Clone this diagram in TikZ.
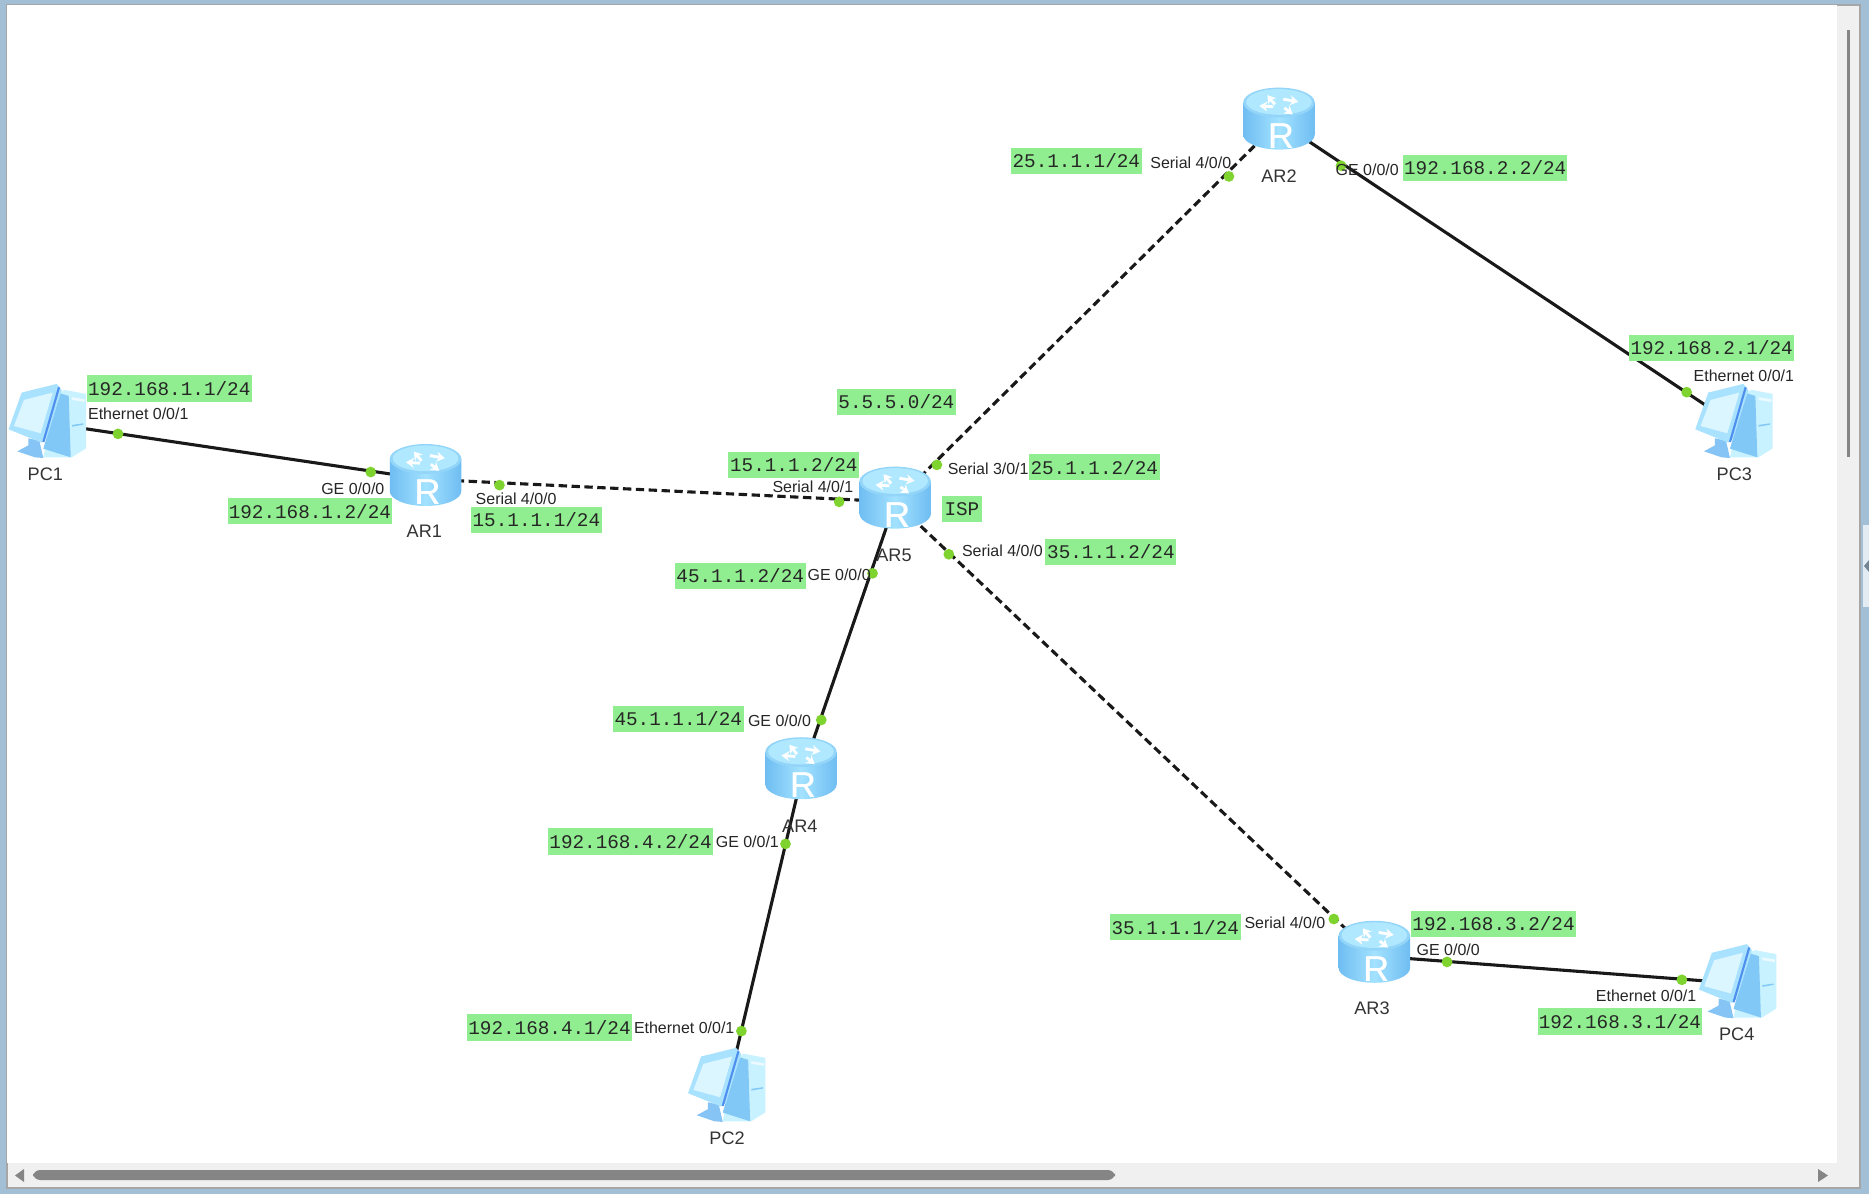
\documentclass[tikz,border=0pt]{standalone}
\usepackage{fontspec}
\setmainfont{Liberation Sans}
\setmonofont{Liberation Mono}
\usetikzlibrary{arrows.meta}
\definecolor{framec}{HTML}{A3BFD6}
\definecolor{panelc}{HTML}{F0F0F0}
\definecolor{barc}{HTML}{858585}
\definecolor{tagc}{HTML}{90EE90}
\definecolor{dotc}{HTML}{7FD32F}
\definecolor{rsidea}{HTML}{6FBDF2}
\definecolor{rsideb}{HTML}{A3E2FF}
\definecolor{rtop}{HTML}{B0E8FF}
\definecolor{pcedge}{HTML}{4F90EE}
\definecolor{pcside}{HTML}{82C8F6}
\definecolor{pcfront}{HTML}{C8F2FF}
\definecolor{pcbezel}{HTML}{A8E2FF}
\definecolor{pcscreen}{HTML}{DCF6FF}
\definecolor{pcbase}{HTML}{86C4F6}
\tikzset{
  x=0.5pt,y=-0.5pt,
  devhit/.style={inner sep=0pt,minimum width=25pt,minimum height=20pt,draw=none},
  pchit/.style={inner sep=0pt,minimum width=20pt,minimum height=20pt,draw=none},
  solidlink/.style={draw=black!90,line width=1.3pt},
  seriallink/.style={draw=black!90,line width=1.3pt,dash pattern=on 3.5pt off 1.9pt},
  portdot/.style={circle,fill=dotc,draw=none,inner sep=0pt,minimum size=4.5pt},
  tag/.style={fill=tagc,inner sep=0pt,minimum height=11pt,font=\ttfamily\fontsize{8.1}{9}\selectfont,text=black!85},
  longtag/.style={tag,minimum width=69pt},
  midtag/.style={tag,minimum width=55pt},
  port/.style={inner sep=0pt,yshift=-0.2pt,font=\fontsize{6.7}{8}\selectfont,text=black!85},
  devname/.style={inner sep=0pt,yshift=-0.4pt,font=\fontsize{7.6}{9}\selectfont,text=black!80},
  router/.pic={
    \path[left color=rsidea,right color=rsidea,middle color=rsideb]
      (-30,-14) -- (-30,13) arc[start angle=180,end angle=0,x radius=30,y radius=12.5] -- (30,-14) -- cycle;
    \fill[rtop!55!rsidea] (0,-14) ellipse[x radius=30,y radius=12.5];
    \fill[rtop] (0,-14.5) ellipse[x radius=27.5,y radius=10.8];
    \foreach \a/\b/\c/\d in {-3.4/-12.3/-9.8/-20.2, 3.6/-16.8/16.2/-14.6, -4.8/-10.4/-16.5/-11.2, 4.5/-9.5/11.5/-4}{
      \draw[white,line width=1.2pt,-{Stealth[length=3.4pt,width=4.2pt]}] (\a,\b) -- (\c,\d);
    }
    \node[inner sep=0pt,text=white,font=\fontsize{15}{15}\selectfont] at (1.4,14) {R};
    \node[inner sep=0pt,text=white,font=\fontsize{15}{15}\selectfont] at (1.9,14) {R};
  },
  pcicon/.pic={
    \begin{scope}[scale=0.28,shift={(-163,-156)}]
      % tower
      \fill[pcfront] (215,60) -- (278,72) -- (278,235) -- (235,262) -- (150,262) -- (190,70) -- cycle;
      \fill[pcside] (200,70) -- (226,78) -- (232,262) -- (150,236) -- (175,150) -- cycle;
      \fill[white!65!pcfront] (236,82) -- (274,88) -- (274,96) -- (236,90) -- cycle;
      \fill[pcside] (236,165) -- (270,160) -- (270,164) -- (236,170) -- cycle;
      % stand
      \fill[pcbase] (105,205) -- (138,212) -- (150,264) -- (125,262) -- (72,244) -- (105,226) -- cycle;
      % monitor
      \fill[pcbezel] (46,178) -- (85,68) -- (190,42) -- (205,60) -- (160,205) -- (145,218) -- cycle;
      \fill[pcscreen] (62,168) -- (92,90) -- (178,68) -- (142,190) -- cycle;
      \draw[pcedge,line width=0.9pt] (197,52) -- (150,216);
    \end{scope}
  },
}
\begin{document}
\begin{tikzpicture}
\useasboundingbox (0,0) rectangle (1568,1001.7);
% window chrome (coordinates in full-size pixels)
\begin{scope}[scale=0.83895]
  \fill[framec] (0,0) rectangle (1869,1194);
  \fill[panelc,draw=gray!70,line width=0.5pt] (7,5) rectangle (1860,1188);
  \fill[white] (7.3,5.3) rectangle (1837,1163);
  \fill[barc] (1847,30) rectangle (1850,457);
  \fill[barc,rounded corners=3pt] (33,1170) rectangle (1115,1180);
  \fill[barc] (24,1169) -- (24,1182) -- (15,1175.5) -- cycle;
  \fill[barc] (1818,1169) -- (1818,1182) -- (1828,1175.5) -- cycle;
  \fill[white!70!framec] (1863,525) rectangle (1869,607);
  \fill[framec!70!black] (1869,560) -- (1869,572) -- (1864,566) -- cycle;
\end{scope}

% device anchors
\node[pchit] (pc1) at (40,355) {};
\node[pchit] (pc2) at (611,911) {};
\node[pchit] (pc3) at (1455,356) {};
\node[pchit] (pc4) at (1458,825) {};
\node[devhit] (ar1) at (357,402) {};
\node[devhit] (ar2) at (1073,102) {};
\node[devhit] (ar3) at (1153,802) {};
\node[devhit] (ar4) at (674,645) {};
\node[devhit] (ar5) at (751,421) {};

% links
\draw[solidlink] (pc1) -- (ar1);
\draw[solidlink] (ar2) -- (pc3);
\draw[solidlink] (ar3) -- (pc4);
\draw[solidlink] (ar5) -- (ar4);
\draw[solidlink] (ar4) -- (pc2);
\draw[seriallink] (ar1) -- (ar5);
\draw[seriallink] (ar5) -- (ar2);
\draw[seriallink] (ar5) -- (ar3);

% icons
\pic at (357,399) {router};
\pic at (1073,100) {router};
\pic at (1153,799) {router};
\pic at (672,645) {router};
\pic at (751,418) {router};
\pic at (40,354) {pcicon};
\pic at (610,911) {pcicon};
\pic at (1455,354) {pcicon};
\pic at (1458,824) {pcicon};

% port dots
\foreach \n/\x/\y in {d1/99/364,d2/311/396,d3/419/407,d4/704/421,d5/786/390,d6/796/465,d7/732/481,d8/689/604,d9/659/708,d10/622/865,d11/1119/771,d12/1214/807,d13/1411/822,d14/1415/329,d15/1031/148,d16/1125/139}
  \node[portdot] (\n) at (\x,\y) {};

% device names
\node[devname] (npc1) at (38,397) {PC1};
\node[devname] (npc2) at (610,954) {PC2};
\node[devname] (npc3) at (1455,397) {PC3};
\node[devname] (npc4) at (1457,867) {PC4};
\node[devname] (nar1) at (356,445) {AR1};
\node[devname] (nar2) at (1073,147) {AR2};
\node[devname] (nar3) at (1151,845) {AR3};
\node[devname] (nar4) at (671,692) {AR4};
\node[devname] (nar5) at (750,465) {AR5};

% port labels
\node[port] (p1) at (116,347) {Ethernet 0/0/1};
\node[port] (p2) at (296,410) {GE 0/0/0};
\node[port] (p3) at (433,418) {Serial 4/0/0};
\node[port] (p4) at (682,408) {Serial 4/0/1};
\node[port] (p5) at (829,393) {Serial 3/0/1};
\node[port] (p6) at (841,462) {Serial 4/0/0};
\node[port] (p7) at (704,482) {GE 0/0/0};
\node[port] (p8) at (654,604) {GE 0/0/0};
\node[port] (p9) at (627,706) {GE 0/0/1};
\node[port] (p10) at (574,862) {Ethernet 0/0/1};
\node[port] (p11) at (1078,774) {Serial 4/0/0};
\node[port] (p12) at (1215,796) {GE 0/0/0};
\node[port] (p13) at (1381,835) {Ethernet 0/0/1};
\node[port] (p14) at (1463,315) {Ethernet 0/0/1};
\node[port] (p15) at (999,136) {Serial 4/0/0};
\node[port] (p16) at (1147,142) {GE 0/0/0};

% address tags
\node[longtag] (t1) at (142,326) {192.168.1.1/24};
\node[longtag] (t2) at (260,429) {192.168.1.2/24};
\node[midtag] (t3) at (450,436) {15.1.1.1/24};
\node[midtag] (t4) at (666,390) {15.1.1.2/24};
\node[tag,minimum width=50pt] (t5) at (752,337) {5.5.5.0/24};
\node[midtag] (t6) at (918,392) {25.1.1.2/24};
\node[tag,minimum width=17pt] (t7) at (807,427) {ISP};
\node[midtag] (t8) at (932,463) {35.1.1.2/24};
\node[midtag] (t9) at (621,483) {45.1.1.2/24};
\node[midtag] (t10) at (569,603) {45.1.1.1/24};
\node[longtag] (t11) at (529,706) {192.168.4.2/24};
\node[longtag] (t12) at (461,862) {192.168.4.1/24};
\node[midtag] (t13) at (986,778) {35.1.1.1/24};
\node[longtag] (t14) at (1253,775) {192.168.3.2/24};
\node[longtag] (t15) at (1359,857) {192.168.3.1/24};
\node[midtag] (t16) at (903,135) {25.1.1.1/24};
\node[longtag] (t17) at (1246,141) {192.168.2.2/24};
\node[longtag] (t18) at (1436,292) {192.168.2.1/24};
\end{tikzpicture}
\end{document}
